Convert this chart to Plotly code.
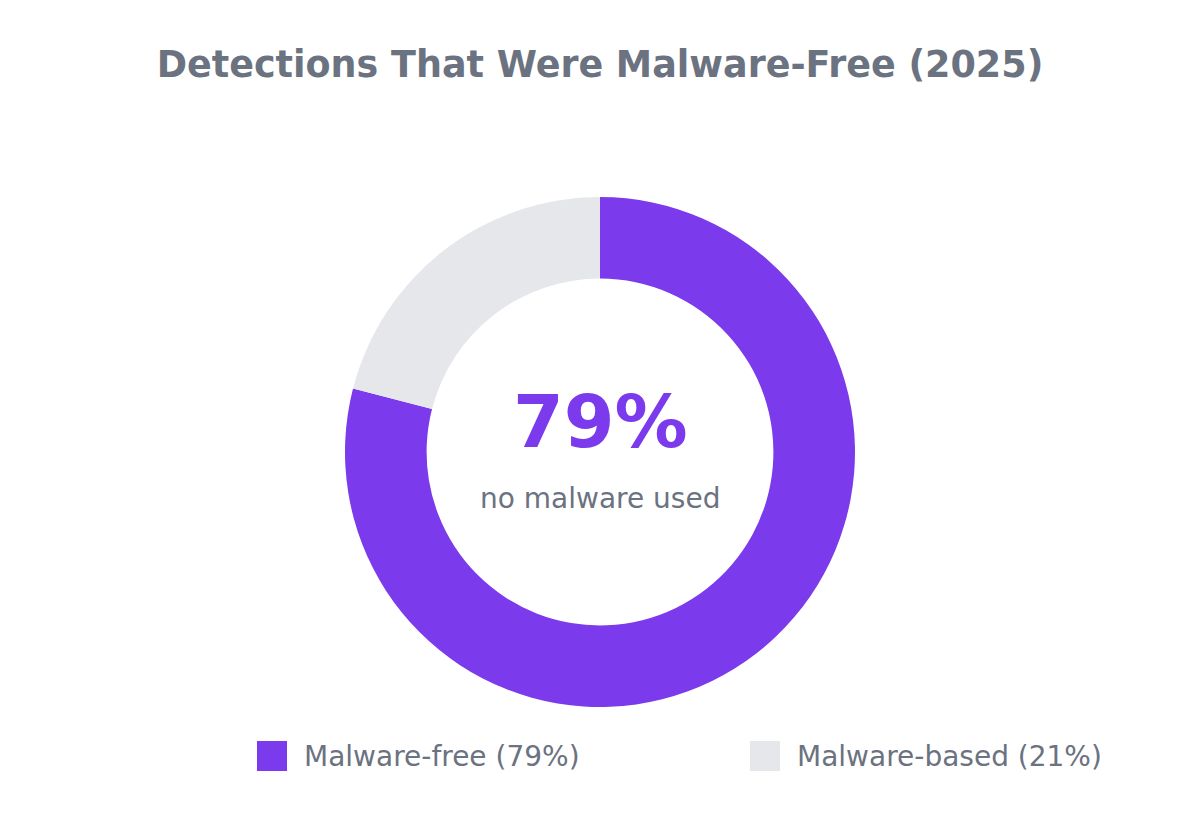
import plotly.graph_objects as go

labels = ['Malware-free (79%)', 'Malware-based (21%)']
values = [79, 21]
colors = ['#7c3aed', '#e5e7eb']
center_value = '79%'
center_label = 'no malware used'

W, H = 1200, 840
OFF = 8                  # page body margin of the html output
L, R = 0, 2 * OFF
T, B = 197 - OFF, 133 + OFF
PW = W - L - R
PH = H - T - B

fig = go.Figure()

fig.add_pie(
    labels=labels,
    values=values,
    hole=0.68,
    sort=False,
    direction='clockwise',
    rotation=0,
    marker=dict(colors=colors, line=dict(width=0)),
    textinfo='none',
    hoverinfo='label+percent',
    showlegend=False,
)

# centre text
fig.add_annotation(
    x=0.5, y=0.56, xref='paper', yref='paper',
    text='<b>' + center_value + '</b>', showarrow=False,
    font=dict(size=73, color='#7c3aed'),
)
fig.add_annotation(
    x=0.5, y=0.408, xref='paper', yref='paper',
    text=center_label, showarrow=False,
    font=dict(size=28, color='#6b7280'),
)

# legend with big square swatches (screen px positions)
legend_px = [257, 750]
sw = 30
top_px = 741 - OFF
y_top = (H - B - top_px) / PH
y_bot = (H - B - top_px - sw) / PH
for lab, col, px in zip(labels, colors, legend_px):
    x0 = (px - OFF - L) / PW
    x1 = (px - OFF - L + sw) / PW
    fig.add_shape(type='rect', xref='paper', yref='paper',
                  x0=x0, x1=x1, y0=y_bot, y1=y_top,
                  fillcolor=col, line=dict(width=0))
    fig.add_annotation(x=(px - OFF - L + sw + 15) / PW, y=(y_top + y_bot) / 2,
                       xref='paper', yref='paper', xanchor='left', yanchor='middle',
                       text=lab, showarrow=False,
                       font=dict(size=28, color='#6b7280'))

fig.update_layout(
    title=dict(text='<b>Detections That Were Malware-Free (2025)</b>',
               x=(W / 2 - OFF) / W, xanchor='center', y=0.948,
               font=dict(size=36.5, color='#6b7280')),
    font=dict(family='DejaVu Sans', color='#6b7280'),
    width=W,
    height=H,
    margin=dict(t=T, b=B, l=L, r=R),
    paper_bgcolor='white',
    plot_bgcolor='white',
)

fig.write_html('out.html')
